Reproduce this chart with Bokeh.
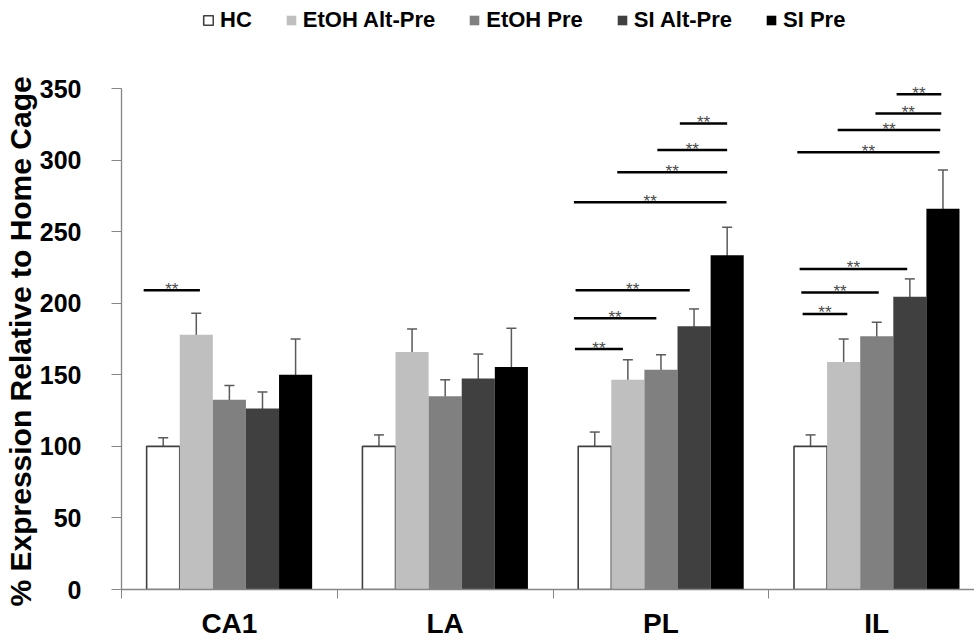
from bokeh.plotting import figure
from bokeh.models import (ColumnDataSource, Range1d, FixedTicker, Whisker, TeeHead,
                          Legend, LegendItem, Title)
from bokeh.core.properties import value
from bokeh.embed import file_html
from bokeh.resources import INLINE

# ---------------- data ----------------
regions = ["CA1", "LA", "PL", "IL"]
groups = ["HC", "EtOH Alt-Pre", "EtOH Pre", "SI Alt-Pre", "SI Pre"]

hc = [100, 100, 100, 100]
hc_err = [6, 8, 10, 8]
etoh_alt = [178, 166, 146.5, 159]
etoh_alt_err = [15, 16, 14, 16]
etoh_pre = [132.5, 135, 153.5, 177]
etoh_pre_err = [10, 11.5, 10.5, 9.7]
si_alt = [126.5, 147.5, 184, 204.5]
si_alt_err = [11.5, 17, 12, 12.5]
si_pre = [150, 155.5, 233.5, 266]
si_pre_err = [25, 27, 19.5, 27]

y_ticks = [0, 50, 100, 150, 200, 250, 300, 350]

# significance brackets: region index, from bar, to bar (bar slot units), height
sig_region = [0, 2, 2, 2, 2, 2, 2, 2, 3, 3, 3, 3, 3, 3, 3]
sig_from = [-0.59, -0.6, -0.63, -0.58, -0.63, 0.68, 1.89, 2.57,
            -0.24, -0.28, -0.33, -0.40, 0.82, 1.96, 2.60]
sig_to = [1.11, 0.85, 1.86, 2.87, 3.98, 4.0, 4.0, 4.0,
          1.11, 2.06, 2.92, 3.90, 3.92, 3.95, 3.95]
sig_y = [209, 168, 189.5, 209, 270.5, 291.5, 307, 325.5,
         192.5, 207.5, 224, 305.5, 321, 332.5, 346]
sig_text = ["**"] * 15

# ---------------- styles ----------------
fills = ["#ffffff", "#bfbfbf", "#808080", "#404040", "#000000"]
BW = 0.1534
FONT = "Liberation Sans"
AXIS_GRAY = "#868686"

series = [(hc, hc_err), (etoh_alt, etoh_alt_err), (etoh_pre, etoh_pre_err),
          (si_alt, si_alt_err), (si_pre, si_pre_err)]

p = figure(width=974, height=641, output_backend="svg", toolbar_location=None,
           x_range=Range1d(0, 3.953), y_range=Range1d(0, 411.5),
           min_border_left=121, min_border_right=0, min_border_top=0,
           min_border_bottom=51)
p.outline_line_color = None
p.xgrid.visible = False
p.ygrid.visible = False
p.background_fill_color = "white"
p.border_fill_color = "white"

renderers = []
for i, (vals, errs) in enumerate(series):
    xs = [r + 0.5 + (i - 2) * BW for r in range(len(regions))]
    src = ColumnDataSource(dict(x=xs, top=vals,
                                upper=[v + e for v, e in zip(vals, errs)],
                                lower=[v - e for v, e in zip(vals, errs)]))
    if i == 0:
        r = p.vbar(x="x", top="top", width=BW, bottom=0, source=src,
                   fill_color=fills[i], line_color="#404040", line_width=1.6)
    else:
        r = p.vbar(x="x", top="top", width=BW, bottom=0, source=src,
                   fill_color=fills[i], line_color=None)
    renderers.append(r)
    w = Whisker(source=src, base="x", upper="upper", lower="lower",
                line_color="#5a5a5a", line_width=1.5,
                upper_head=TeeHead(size=10, line_color="#5a5a5a", line_width=1.5),
                lower_head=TeeHead(size=10, line_color="#5a5a5a", line_width=1.5))
    p.add_layout(w)

# significance brackets
x0 = [r + 0.5 + (f - 2) * BW for r, f in zip(sig_region, sig_from)]
x1 = [r + 0.5 + (t - 2) * BW for r, t in zip(sig_region, sig_to)]
sig_src = ColumnDataSource(dict(x0=x0, x1=x1, y=sig_y, xm=[(a + b) / 2 for a, b in zip(x0, x1)],
                                t=sig_text))
p.segment(x0="x0", y0="y", x1="x1", y1="y", source=sig_src, line_color="black", line_width=2.5)
p.text(x="xm", y="y", text="t", source=sig_src, text_font=value(FONT), text_font_size="17px",
       text_color="#4a4a4a", text_align="center", text_baseline="alphabetic", y_offset=-1)

# legend
legend = Legend(items=[LegendItem(label=g, renderers=[r]) for g, r in zip(groups, renderers)],
                orientation="horizontal", location=(81, 556),
                label_text_font=FONT, label_text_font_style="bold", label_text_font_size="22px",
                label_text_color="black", glyph_width=12, glyph_height=12, label_standoff=6,
                spacing=33, padding=0, margin=0, border_line_color=None,
                background_fill_alpha=0)
p.add_layout(legend, "center")

# x axis
xa = p.xaxis[0]
xa.ticker = FixedTicker(ticks=[0.5, 1.5, 2.5, 3.5], minor_ticks=[0, 1, 2, 3, 4])
xa.major_label_overrides = {0.5: "CA1", 1.5: "LA", 2.5: "PL", 3.5: "IL"}
xa.major_tick_out = 0
xa.major_tick_in = 0
xa.minor_tick_out = 9
xa.minor_tick_in = 0
xa.minor_tick_line_color = AXIS_GRAY
xa.axis_line_color = AXIS_GRAY
xa.axis_line_width = 1.3
xa.major_label_text_font = FONT
xa.major_label_text_font_style = "bold"
xa.major_label_text_font_size = "28px"
xa.major_label_text_color = "black"
xa.major_label_standoff = 9

# y axis
ya = p.yaxis[0]
ya.bounds = (0, 350)
ya.ticker = FixedTicker(ticks=y_ticks)
ya.major_tick_out = 10
ya.major_tick_in = 0
ya.minor_tick_out = 0
ya.minor_tick_in = 0
ya.major_tick_line_color = AXIS_GRAY
ya.axis_line_color = AXIS_GRAY
ya.axis_line_width = 1.3
ya.major_label_text_font = FONT
ya.major_label_text_font_style = "bold"
ya.major_label_text_font_size = "25px"
ya.major_label_text_color = "black"
ya.major_label_standoff = 30

ytitle = Title(text="% Expression Relative to Home Cage", align="left", offset=-17,
               text_font=FONT, text_font_style="bold", text_font_size="30px",
               text_color="black", standoff=0)
p.add_layout(ytitle, "left")

open("out.html", "w").write(file_html(p, INLINE))
